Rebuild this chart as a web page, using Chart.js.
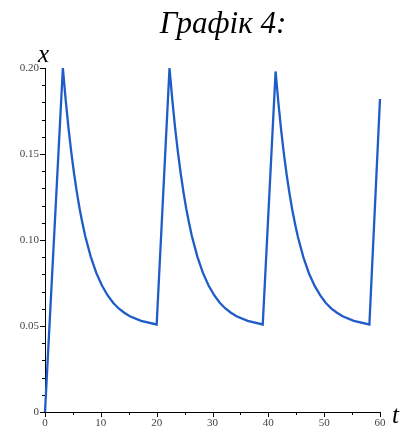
<!DOCTYPE html>
<html>
<head>
<meta charset="utf-8">
<script src="https://cdn.jsdelivr.net/npm/chart.js@4.4.1/dist/chart.umd.min.js"></script>
<style>
  html, body { margin: 0; padding: 0; background: #fff; }
  #wrap { position: relative; width: 412px; height: 430px; }
  #title {
    position: absolute; left: 0; width: 446px; top: 5px;
    text-align: center; font-family: "Liberation Serif", serif;
    font-style: italic; font-size: 31px; color: #000;
  }
  .axlab { position: absolute; font-family: "Liberation Serif", serif; font-style: italic; font-size: 25px; color: #000; }
</style>
</head>
<body>
<div id="wrap">
  <canvas id="graph" width="412" height="430"></canvas>
  <div id="title">Графік 4:</div>
  <div class="axlab" style="left:38px; top:40px;">x</div>
  <div class="axlab" style="left:392px; top:401px;">t</div>
</div>
<script>
// time values t and solution x(t)
const tValues = [
  0, 3.2, 3.7, 4.2, 4.7, 5.2, 5.7, 6.2, 6.7, 7.2, 8.2, 9.2, 10.2, 11.2, 12.2, 13.2, 14.2, 15.2, 17.2, 20.0,
  22.3, 22.8, 23.3, 23.8, 24.3, 24.8, 25.3, 25.8, 26.3, 27.3, 28.3, 29.3, 30.3, 31.3, 32.3, 33.3, 34.3, 36.3, 39.0,
  41.3, 41.8, 42.3, 42.8, 43.3, 43.8, 44.3, 44.8, 45.3, 46.3, 47.3, 48.3, 49.3, 50.3, 51.3, 52.3, 53.3, 55.3, 58.1,
  60
];
const xValues = [
  0, 0.200, 0.1816, 0.1654, 0.1512, 0.1388, 0.1278, 0.1182, 0.1099, 0.1023, 0.0902, 0.0807, 0.0735, 0.0679, 0.0635, 0.0602, 0.0577, 0.0557, 0.0530, 0.0509,
  0.200, 0.1816, 0.1654, 0.1512, 0.1388, 0.1278, 0.1182, 0.1099, 0.1023, 0.0902, 0.0807, 0.0735, 0.0679, 0.0635, 0.0602, 0.0577, 0.0557, 0.0530, 0.0509,
  0.198, 0.1798, 0.1638, 0.1498, 0.1376, 0.1268, 0.1173, 0.1091, 0.1017, 0.0898, 0.0804, 0.0733, 0.0678, 0.0634, 0.0601, 0.0577, 0.0557, 0.0530, 0.0509,
  0.182
];

const tickFont = { family: 'Liberation Serif', size: 11 };

// small outward tick marks, longer for labelled ones
const tickMarks = {
  id: 'tickMarks',
  afterDraw(chart) {
    const ctx = chart.ctx;
    const ys = chart.scales.y, xs = chart.scales.x;
    const area = chart.chartArea;
    ctx.save();
    ctx.strokeStyle = '#000';
    ctx.lineWidth = 1;
    ctx.beginPath();
    ys.ticks.forEach(tk => {
      const py = Math.round(ys.getPixelForValue(tk.value)) + 0.5;
      const major = Math.round(tk.value * 100) % 5 === 0;
      ctx.moveTo(area.left, py);
      ctx.lineTo(area.left - (major ? 5 : 3), py);
    });
    xs.ticks.forEach(tk => {
      const px = Math.round(xs.getPixelForValue(tk.value)) + 0.5;
      const major = Math.round(tk.value) % 10 === 0;
      ctx.moveTo(px, area.bottom);
      ctx.lineTo(px, area.bottom + (major ? 5 : 3));
    });
    ctx.stroke();
    ctx.restore();
  }
};

new Chart(document.getElementById('graph'), {
  type: 'line',
  data: {
    datasets: [{
      data: tValues.map((t, i) => ({ x: t, y: xValues[i] })),
      borderColor: '#1f5cc8',
      borderWidth: 2.3,
      pointRadius: 0,
      tension: 0,
      fill: false,
      clip: false
    }]
  },
  options: {
    responsive: false,
    animation: false,
    layout: { padding: { left: 0, right: 32, top: 68, bottom: 0 } },
    plugins: { legend: { display: false }, tooltip: { enabled: false } },
    scales: {
      x: {
        type: 'linear', min: 0, max: 60,
        afterFit: s => { s.height = 18; },
        border: { display: true, color: '#000', width: 1 },
        grid: { drawOnChartArea: false, drawTicks: false },
        ticks: {
          stepSize: 5, autoSkip: false, maxRotation: 0, padding: 5,
          font: tickFont, color: '#444',
          callback: v => (Math.round(v) % 10 === 0 ? String(v) : '')
        }
      },
      y: {
        min: 0, max: 0.2,
        afterFit: s => { s.width = 45; },
        border: { display: true, color: '#000', width: 1 },
        grid: { drawOnChartArea: false, drawTicks: false },
        ticks: {
          stepSize: 0.01, autoSkip: false, padding: 6,
          font: tickFont, color: '#444',
          callback: v => {
            const k = Math.round(v * 100);
            if (k % 5 !== 0) return '';
            return k === 0 ? '0' : (k / 100).toFixed(2);
          }
        }
      }
    }
  },
  plugins: [tickMarks]
});
</script>
</body>
</html>
